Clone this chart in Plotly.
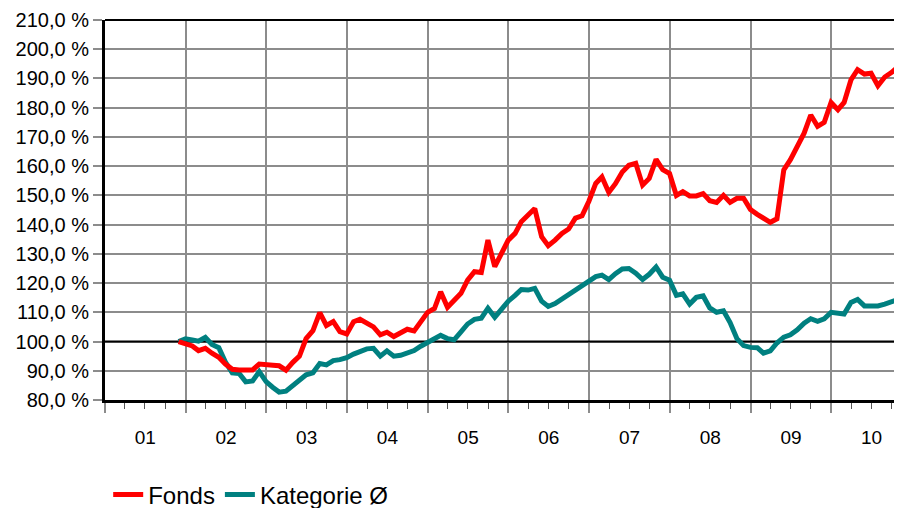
import pandas as pd
import plotly.graph_objects as go

# Monthly values (month-end), Nov 2001 .. Nov 2010, indexed to 100 %
start_month = "2001-11-30"

fonds = [
    100.0, 99.4, 98.5, 96.9, 97.7, 96.0, 94.6, 92.3, 90.5, 90.3,
    90.3, 90.3, 92.3, 92.3, 91.9, 91.7, 90.2, 92.8, 95.0, 101.0,
    103.7, 109.9, 105.5, 106.8, 103.4, 102.6, 106.8, 107.6, 106.5, 105.0,
    102.3, 103.2, 101.7, 102.8, 104.2, 103.6, 106.8, 110.0, 111.3, 117.0,
    111.7, 114.2, 116.5, 121.0, 123.9, 123.6, 134.7, 125.6, 130.2, 134.7,
    137.0, 141.0, 143.3, 145.5, 135.9, 132.8, 134.7, 137.0, 138.5, 142.2,
    143.0, 148.0, 154.1, 156.3, 151.0, 154.0, 158.0, 160.3, 161.0, 153.5,
    155.8, 162.3, 158.8, 157.5, 150.0, 151.3, 149.8, 149.8, 150.6, 148.2,
    147.6, 150.0, 147.6, 149.0, 149.0, 145.2, 143.5, 142.0, 140.8, 142.0,
    158.7, 162.2, 166.7, 171.3, 177.5, 173.6, 175.0, 181.8, 179.3, 181.8,
    189.5, 193.0, 191.5, 191.8, 187.5, 190.5, 192.0, 194.0, 196.0,
]

kategorie = [
    100.0, 100.9, 100.5, 100.1, 101.4, 99.0, 97.9, 93.0, 89.3, 89.1,
    86.2, 86.5, 89.7, 86.3, 84.3, 82.7, 83.0, 84.8, 86.5, 88.6,
    89.3, 92.5, 92.0, 93.5, 93.8, 94.5, 95.7, 96.5, 97.5, 97.7,
    95.0, 96.8, 95.0, 95.3, 96.2, 96.9, 98.4, 99.6, 101.2, 102.1,
    101.0, 100.6, 103.3, 106.0, 107.6, 108.0, 111.4, 108.3, 111.0, 113.8,
    115.8, 117.8, 117.6, 118.2, 113.8, 112.0, 113.0, 114.5, 116.3, 117.7,
    118.8, 120.5, 122.2, 122.7, 121.2, 123.2, 124.8, 125.0, 123.4, 121.2,
    123.0, 125.5, 122.0, 121.0, 115.8, 116.3, 112.8, 115.1, 115.6, 111.5,
    110.0, 110.5, 106.5, 101.0, 98.6, 98.0, 97.9, 96.0, 96.8, 99.5,
    101.5, 102.3, 104.0, 106.3, 107.8, 106.9, 107.8, 110.0, 109.7, 109.4,
    113.4, 114.4, 112.2, 112.2, 112.2, 112.8, 113.6, 114.4, 116.2,
]

series_names = ["Fonds", "Kategorie Ø"]
baseline = 100.0
x_range = ["2001-01-01", "2010-11-17"]

dates = pd.date_range(start=start_month, periods=len(fonds), freq=pd.offsets.MonthEnd())

FONT = "Liberation Sans, Arial, sans-serif"
GRID = "#8c8c8c"

fig = go.Figure()
# 100 % reference line (below the series, above the grid)
fig.add_trace(go.Scatter(x=x_range, y=[baseline, baseline], mode="lines",
                         line=dict(color="black", width=2), showlegend=False,
                         hoverinfo="skip"))
fig.add_trace(go.Scatter(x=dates, y=kategorie, mode="lines", name=series_names[1],
                         line=dict(color="#008080", width=5)))
fig.add_trace(go.Scatter(x=dates, y=fonds, mode="lines", name=series_names[0],
                         line=dict(color="#ff0000", width=5)))

fig.add_shape(type="line", xref="paper", yref="paper", x0=0, x1=1, y0=1, y1=1,
              line=dict(color="black", width=2), layer="above")

# page body has an 8px margin: compensate so the plot area sits at x 105..902, y 20..400
fig.update_layout(
    width=902, height=530,
    margin=dict(l=97, r=8, t=12, b=138, pad=0),
    plot_bgcolor="white", paper_bgcolor="white",
    separators=",.",
    font=dict(family=FONT, size=19, color="black"),
    showlegend=True,
    legend=dict(orientation="h", x=0.004, xanchor="left", y=-0.25, yanchor="middle",
                traceorder="reversed", font=dict(size=24), bgcolor="rgba(0,0,0,0)"),
    xaxis=dict(
        type="date", range=x_range, automargin=False,
        tick0="2001-01-01", dtick="M12", tickformat="%y", ticklabelmode="period",
        showgrid=True, gridcolor=GRID, gridwidth=2,
        ticks="outside", ticklen=10, tickwidth=2, tickcolor=GRID,
        ticklabelstandoff=8,
        minor=dict(dtick="M3", ticks="outside", ticklen=6, tickwidth=1, tickcolor="#555555",
                   showgrid=False),
        showline=True, linecolor="black", linewidth=3, zeroline=False,
        tickfont=dict(size=19, color="black"),
    ),
    yaxis=dict(
        range=[80, 210], tick0=80, dtick=10, tickformat=".1f", ticksuffix=" %",
        automargin=False,
        showgrid=True, gridcolor=GRID, gridwidth=2,
        ticks="outside", ticklen=9, tickwidth=2, tickcolor=GRID,
        showline=True, linecolor="black", linewidth=3, zeroline=False,
        tickfont=dict(size=20, color="black"),
    ),
)

fig.write_html(
    "out.html",
    post_script="document.documentElement.style.overflow='hidden';"
                "document.body.style.overflow='hidden';",
)
